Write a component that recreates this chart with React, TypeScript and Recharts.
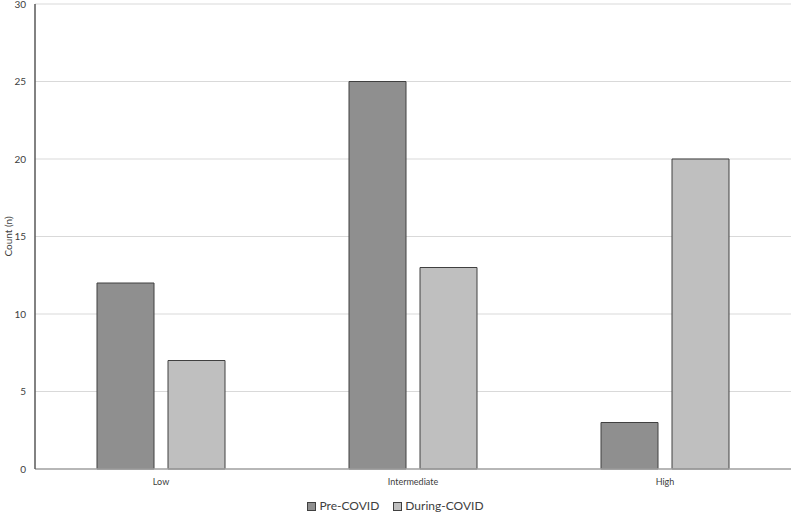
import React from 'react';
import { BarChart, Bar, XAxis, YAxis, CartesianGrid, Legend } from 'recharts';

const categories = ['Low', 'Intermediate', 'High'];
const preCovid = [12, 25, 3];
const duringCovid = [7, 13, 20];
const yTicks = [0, 5, 10, 15, 20, 25, 30];
const seriesNames = ['Pre-COVID', 'During-COVID'];

const data = categories.map((c, i) => ({ name: c, pre: preCovid[i], during: duringCovid[i] }));

const FONT = 'Lato, "Open Sans", sans-serif';
const colors = ['#8f8f8f', '#bfbfbf'];

const LegendContent = () => (
  <div style={{ display: 'flex', justifyContent: 'center', fontFamily: FONT, fontSize: 12, lineHeight: '16px', color: '#404040' }}>
    {seriesNames.map((n, i) => (
      <div key={n} style={{ display: 'flex', alignItems: 'center', marginLeft: i ? 14 : 0 }}>
        <span style={{ display: 'inline-block', width: 7, height: 7, background: colors[i], border: '1px solid #404040', marginRight: 3 }} />
        <span>{n}</span>
      </div>
    ))}
  </div>
);

export default function App() {
  return (
    <div style={{ position: 'absolute', left: 0, top: 0, background: '#fff' }}>
      <BarChart
        width={791}
        height={514}
        data={data}
        margin={{ top: 4, right: 0, left: 0, bottom: 1 }}
        barCategoryGap={62}
        barGap={14}
      >
        <CartesianGrid vertical={false} stroke="#d9d9d9" />
        <XAxis
          dataKey="name"
          height={28}
          axisLine={{ stroke: '#a6a6a6', strokeWidth: 1.5 }}
          tickLine={false}
          tick={{ fontSize: 9, fill: '#404040', fontFamily: FONT }}
          tickMargin={4}
        />
        <YAxis
          width={35}
          domain={[0, 30]}
          ticks={yTicks}
          interval={0}
          axisLine={{ stroke: '#595959', strokeWidth: 1.5 }}
          tickLine={false}
          tick={{ fontSize: 10, fill: '#404040', fontFamily: FONT }}
          tickMargin={3}
          label={{ value: 'Count (n)', angle: -90, position: 'insideLeft', offset: 8, style: { fontSize: 10, fill: '#404040', fontFamily: FONT, textAnchor: 'middle' } }}
        />
        <Legend content={<LegendContent />} verticalAlign="bottom" height={16} wrapperStyle={{ bottom: 0, left: 0, width: 791 }} />
        <Bar dataKey="pre" name={seriesNames[0]} fill={colors[0]} stroke="#404040" strokeWidth={1} isAnimationActive={false} />
        <Bar dataKey="during" name={seriesNames[1]} fill={colors[1]} stroke="#404040" strokeWidth={1} isAnimationActive={false} />
      </BarChart>
    </div>
  );
}
